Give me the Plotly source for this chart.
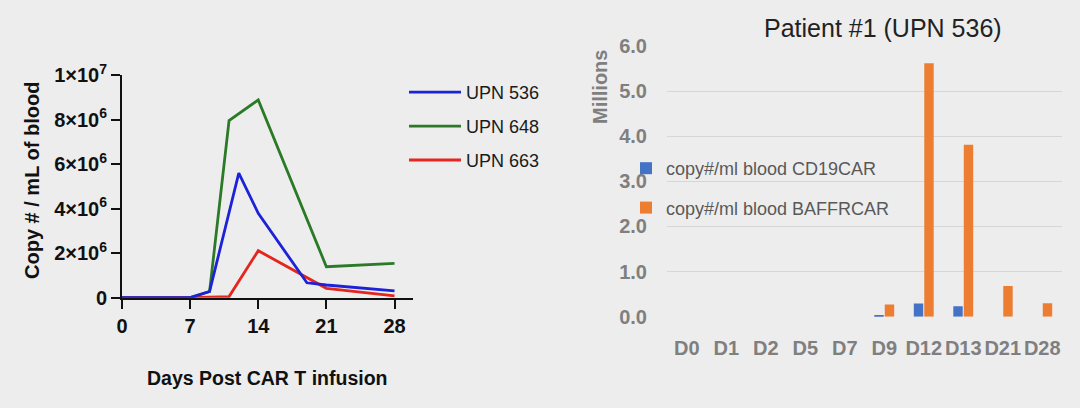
import plotly.graph_objects as go

# ---- Left chart data (copies / mL of blood) ----
days_536 = [0, 7, 9, 12, 14, 19, 21, 28]
copies_536 = [0, 0, 0.28e6, 5.59e6, 3.79e6, 0.67e6, 0.57e6, 0.31e6]
days_648 = [0, 7, 9, 11, 14, 21, 28]
copies_648 = [0, 0, 0.28e6, 7.95e6, 8.88e6, 1.39e6, 1.54e6]
days_663 = [0, 7, 11, 14, 21, 28]
copies_663 = [0, 0, 0.05e6, 2.11e6, 0.42e6, 0.08e6]

left_xticks = [0, 7, 14, 21, 28]
left_yticks = [0, 2e6, 4e6, 6e6, 8e6, 1e7]
left_yticktext = ["0", "2×10<sup>6</sup>", "4×10<sup>6</sup>", "6×10<sup>6</sup>",
                  "8×10<sup>6</sup>", "1×10<sup>7</sup>"]

# ---- Right chart data (millions of copies / mL) ----
visits = ["D0", "D1", "D2", "D5", "D7", "D9", "D12", "D13", "D21", "D28"]
cd19car = [0, 0, 0, 0, 0, 0.02, 0.29, 0.23, 0, 0]
baffrcar = [0, 0, 0, 0, 0, 0.27, 5.62, 3.81, 0.68, 0.30]

W, H = 1080, 408
BG = "#ededed"
FONT = "Liberation Sans, Arial, sans-serif"

fig = go.Figure()

line_w = 2.8
fig.add_trace(go.Scatter(x=days_648, y=copies_648, mode="lines", name="UPN 648",
                         line=dict(color="#2b7a28", width=line_w), legendrank=2,
                         legendgroup="g2", cliponaxis=False, xaxis="x", yaxis="y", legend="legend"))
fig.add_trace(go.Scatter(x=days_663, y=copies_663, mode="lines", name="UPN 663",
                         line=dict(color="#e3261e", width=line_w), legendrank=3,
                         legendgroup="g3", cliponaxis=False, xaxis="x", yaxis="y", legend="legend"))
fig.add_trace(go.Scatter(x=days_536, y=copies_536, mode="lines", name="UPN 536",
                         line=dict(color="#1c22d8", width=line_w), legendrank=1,
                         legendgroup="g1", cliponaxis=False, xaxis="x", yaxis="y", legend="legend"))

fig.add_trace(go.Bar(x=visits, y=cd19car, name="copy#/ml blood CD19CAR",
                     marker=dict(color="#4472c4", line=dict(width=0)),
                     legendgroup="b1", xaxis="x2", yaxis="y2", legend="legend2"))
fig.add_trace(go.Bar(x=visits, y=baffrcar, name="copy#/ml blood BAFFRCAR",
                     marker=dict(color="#ed7d31", line=dict(width=0)),
                     legendgroup="b2", xaxis="x2", yaxis="y2", legend="legend2"))

fig.update_layout(
    width=W, height=H,
    margin=dict(l=0, r=0, t=0, b=0, autoexpand=False),
    paper_bgcolor=BG, plot_bgcolor=BG,
    font=dict(family=FONT, color="#111111"),
    barmode="group", bargap=0.47, bargroupgap=0.1,
    showlegend=True,
    xaxis=dict(domain=[122 / W, 413 / W], range=[0, 29.9], anchor="y", automargin=False,
               tickvals=left_xticks, ticks="outside", ticklen=9, tickwidth=2,
               tickcolor="#111", showline=True, linecolor="#111", linewidth=2,
               showgrid=False, zeroline=False,
               tickfont=dict(size=20, family=FONT, color="#111", weight="bold")),
    yaxis=dict(domain=[(H - 297.7) / H, (H - 75) / H], range=[0, 1e7], anchor="x",
               automargin=False,
               tickvals=left_yticks, ticktext=left_yticktext, ticks="outside",
               ticklen=9, tickwidth=2, tickcolor="#111", showline=True,
               linecolor="#111", linewidth=2, showgrid=False, zeroline=False,
               tickfont=dict(size=20, family=FONT, color="#111", weight="bold")),
    xaxis2=dict(domain=[667 / W, 1062 / W], anchor="y2", type="category", automargin=False,
                showline=False, showgrid=False, zeroline=False, ticks="",
                ticklabelstandoff=17,
                tickfont=dict(size=20, family=FONT, color="#7f7f7f", weight="bold")),
    yaxis2=dict(domain=[(H - 316.7) / H, (H - 46) / H], range=[0, 6], anchor="x2",
                automargin=False,
                dtick=1, tickformat=".1f", showgrid=True, gridcolor="#d6d6d6",
                gridwidth=1, zeroline=False, showline=False, ticks="",
                ticklabelstandoff=19,
                tickfont=dict(size=20, family=FONT, color="#7f7f7f", weight="bold")),
    legend=dict(x=404 / W, y=1 - 74 / H, xanchor="left", yanchor="top",
                bgcolor="rgba(0,0,0,0)", traceorder="grouped", tracegroupgap=7.5,
                itemwidth=52,
                font=dict(size=18, family=FONT, color="#1a1a1a")),
    legend2=dict(x=626 / W, y=1 - 150 / H, xanchor="left", yanchor="top",
                 bgcolor="rgba(0,0,0,0)", traceorder="grouped", tracegroupgap=13,
                 itemwidth=30,
                 font=dict(size=18, family=FONT, color="#595959")),
    annotations=[
        dict(text="<b>Copy # / mL of blood</b>", x=32 / W, y=1 - 181 / H,
             xref="paper", yref="paper", showarrow=False, textangle=-90,
             xanchor="center", yanchor="middle",
             font=dict(size=20, family=FONT, color="#111")),
        dict(text="<b>Days Post CAR T infusion</b>", x=267 / W, y=1 - 378 / H,
             xref="paper", yref="paper", showarrow=False,
             xanchor="center", yanchor="middle",
             font=dict(size=19.5, family=FONT, color="#111")),
        dict(text="Patient #1 (UPN 536)", x=883 / W, y=1 - 28 / H,
             xref="paper", yref="paper", showarrow=False,
             xanchor="center", yanchor="middle",
             font=dict(size=25, family=FONT, color="#222")),
        dict(text="<b>Millions</b>", x=600 / W, y=1 - 87 / H,
             xref="paper", yref="paper", showarrow=False, textangle=-90,
             xanchor="center", yanchor="middle",
             font=dict(size=20, family=FONT, color="#7f7f7f")),
    ],
)

fig.write_html("out.html")
